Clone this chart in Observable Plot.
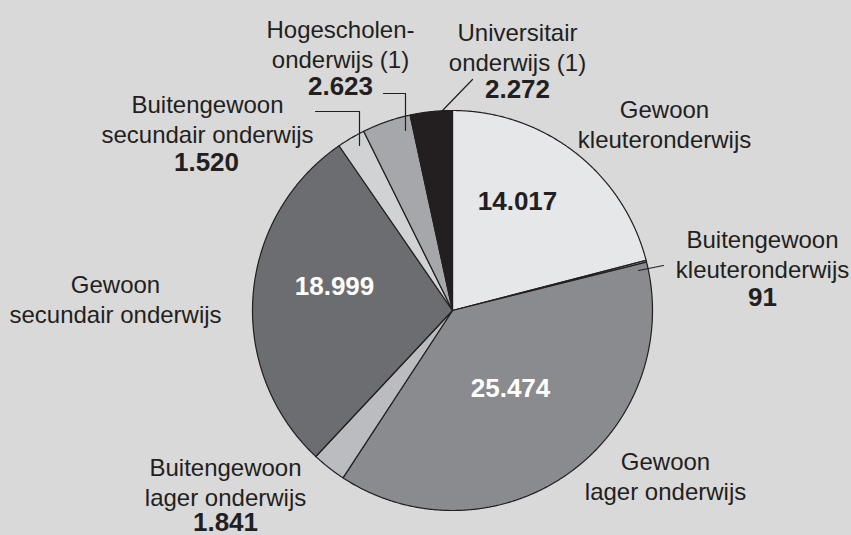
<!DOCTYPE html>
<html>
<head>
<meta charset="utf-8">
<script src="https://cdn.jsdelivr.net/npm/d3@7"></script>
<script src="https://cdn.jsdelivr.net/npm/@observablehq/plot@0.6"></script>
<style>
  html, body { margin: 0; padding: 0; background: #d9d9d9; }
  #chart { width: 851px; height: 535px; }
</style>
</head>
<body>
<div id="chart"></div>
<script>
// ---- data ----
const categories = [
  "Gewoon kleuteronderwijs",
  "Buitengewoon kleuteronderwijs",
  "Gewoon lager onderwijs",
  "Buitengewoon lager onderwijs",
  "Gewoon secundair onderwijs",
  "Buitengewoon secundair onderwijs",
  "Hogescholenonderwijs (1)",
  "Universitair onderwijs (1)"
];
const values = [14017, 91, 25474, 1841, 18999, 1520, 2623, 2272];
const labelTexts = [
  "Gewoon\nkleuteronderwijs",
  "Buitengewoon\nkleuteronderwijs",
  "Gewoon\nlager onderwijs",
  "Buitengewoon\nlager onderwijs",
  "Gewoon\nsecundair onderwijs",
  "Buitengewoon\nsecundair onderwijs",
  "Hogescholen-\nonderwijs (1)",
  "Universitair\nonderwijs (1)"
];

// ---- styles / layout ----
const sliceColors = ["#e6e7e8", "#c4c5c7", "#8a8b8e", "#bbbcbf", "#6c6d70", "#d1d2d4", "#a6a7aa", "#231f20"];
const numberColors = ["#231f20", "#231f20", "#ffffff", "#231f20", "#ffffff", "#231f20", "#231f20", "#231f20"];
// pixel layout of the pie: center and radius
const CX = 452, CY = 310, R = 200, W = 851, H = 535;
// label anchors in pixels: [centerX, first-line baseline]
const namePos = [[664, 113], [762, 243], [665, 465], [225, 471], [115, 288], [207, 108], [340, 33], [517, 36]];
const numberPos = [[517, 209], [762, 305], [510, 396], [225, 530], [334, 294], [206, 170], [340, 94], [517, 97]];
// leader polylines in pixels
const leaders = [
  [[638, 270], [663, 265]],
  [[315, 111], [359, 111], [359, 145]],
  [[383, 93], [405, 93], [405, 130]],
  [[472, 79], [442, 110]]
];
const NAME_FS = 24, NUM_FS = 26, LINE_H = 30;

const nl = d3.formatLocale({decimal: ",", thousands: ".", grouping: [3], currency: ["€", ""]});
const fmt = nl.format(",");

// convert pixel to data units
const toX = px => (px - CX) / R;
const toY = py => (CY - py) / R;

// ---- slices via d3.pie ----
const arcs = d3.pie().sort(null).value(d => d)(values);
const slicePts = [];
arcs.forEach((a, i) => {
  slicePts.push({cat: categories[i], x: 0, y: 0});
  const n = Math.max(2, Math.ceil((a.endAngle - a.startAngle) / 0.005));
  for (let k = 0; k <= n; k++) {
    const t = a.startAngle + (a.endAngle - a.startAngle) * k / n;
    slicePts.push({cat: categories[i], x: Math.sin(t), y: Math.cos(t)});
  }
});

const nameData = categories.map((c, i) => ({
  text: labelTexts[i],
  x: toX(namePos[i][0]),
  y: toY(namePos[i][1] - 0.71 * NAME_FS)
}));
const numData = categories.map((c, i) => ({
  text: fmt(values[i]),
  color: numberColors[i],
  x: toX(numberPos[i][0]),
  y: toY(numberPos[i][1] - 0.71 * NUM_FS)
}));
const leaderPts = leaders.flatMap((seg, j) => seg.map(p => ({id: j, x: toX(p[0]), y: toY(p[1])})));

const chart = Plot.plot({
  width: W,
  height: H,
  marginLeft: CX - R,
  marginRight: W - (CX + R),
  marginTop: CY - R,
  marginBottom: H - (CY + R),
  x: {domain: [-1, 1], axis: null},
  y: {domain: [-1, 1], axis: null},
  color: {domain: categories, range: sliceColors},
  style: {background: "#d9d9d9", fontFamily: "'Liberation Sans', Arial, Helvetica, sans-serif", overflow: "visible"},
  marks: [
    Plot.line(slicePts, {x: "x", y: "y", z: "cat", fill: "cat", stroke: "#231f20", strokeWidth: 1.2, curve: "linear-closed", strokeLinejoin: "round"}),
    Plot.line(leaderPts, {x: "x", y: "y", z: "id", stroke: "#231f20", strokeWidth: 1.2}),
    Plot.text(nameData, {x: "x", y: "y", text: "text", lineAnchor: "top", lineHeight: LINE_H / NAME_FS, fontSize: NAME_FS, fill: "#231f20"}),
    Plot.text(numData, {x: "x", y: "y", text: "text", lineAnchor: "top", fontSize: NUM_FS, fontWeight: "bold", fill: "color"})
  ]
});
document.getElementById("chart").appendChild(chart);
</script>
</body>
</html>
